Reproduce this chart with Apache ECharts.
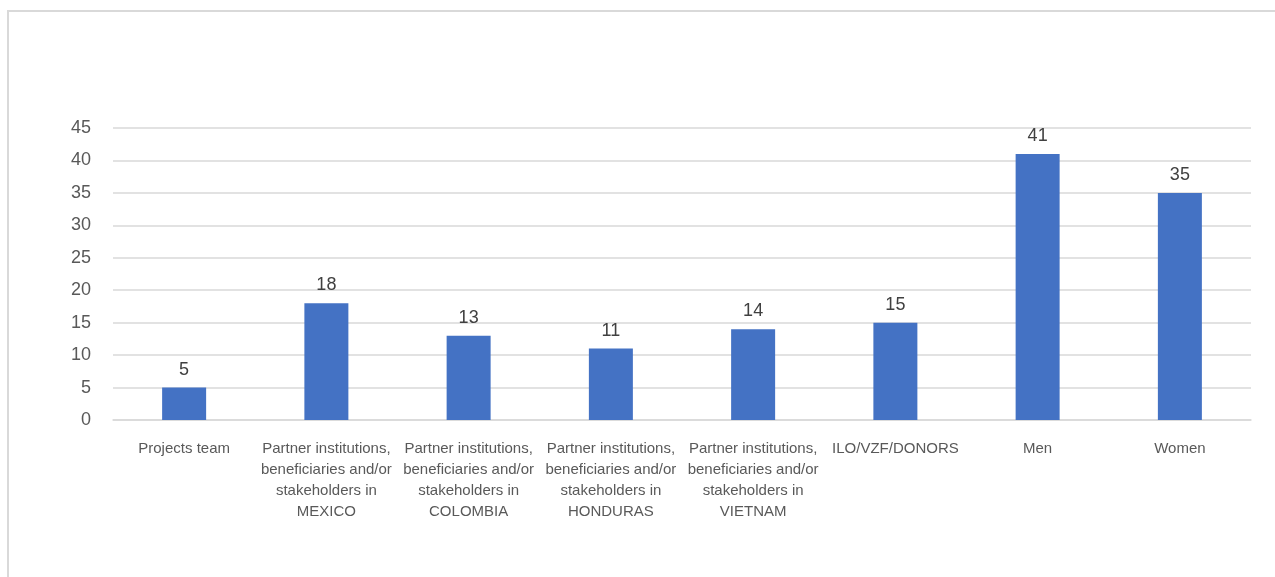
<!DOCTYPE html>
<html><head><meta charset="utf-8">
<script src="https://cdn.jsdelivr.net/npm/echarts@6/dist/echarts.min.js"></script>
<style>html,body{margin:0;padding:0;background:#fff}#c{width:1275px;height:577px}</style>
</head><body><div id="c"></div>
<script>
const categories = [
  "Projects team",
  "Partner institutions,\nbeneficiaries and/or\nstakeholders in\nMEXICO",
  "Partner institutions,\nbeneficiaries and/or\nstakeholders in\nCOLOMBIA",
  "Partner institutions,\nbeneficiaries and/or\nstakeholders in\nHONDURAS",
  "Partner institutions,\nbeneficiaries and/or\nstakeholders in\nVIETNAM",
  "ILO/VZF/DONORS",
  "Men",
  "Women"
];
const values = [5, 18, 13, 11, 14, 15, 41, 35];
const yMin = 0, yMax = 45, yStep = 5;

const chart = echarts.init(document.getElementById('c'));
chart.setOption({
  animation: false,
  graphic: [{
    type: 'rect', silent: true,
    shape: { x: 8, y: 11, width: 1400, height: 700 },
    style: { fill: 'none', stroke: '#d9d9d9', lineWidth: 2 }
  }],
  grid: { left: 113, right: 24, top: 128, bottom: 157 },
  xAxis: {
    type: 'category', data: categories,
    axisLine: { show: true, lineStyle: { color: '#d9d9d9', width: 1.5 } },
    axisTick: { show: false },
    axisLabel: {
      interval: 0, color: '#595959', fontSize: 15, lineHeight: 21, margin: 18,
      fontFamily: '"Liberation Sans Narrow", "Liberation Sans", sans-serif'
    }
  },
  yAxis: {
    type: 'value', min: yMin, max: yMax, interval: yStep,
    axisLine: { show: false }, axisTick: { show: false },
    splitLine: { lineStyle: { color: '#d9d9d9', width: 1.5 } },
    axisLabel: { color: '#595959', fontSize: 18, margin: 22, fontFamily: '"Liberation Sans", sans-serif' }
  },
  series: [{
    type: 'bar', data: values, barWidth: 44,
    itemStyle: { color: '#4472C4' },
    label: { show: true, position: 'top', distance: 9, color: '#404040', fontSize: 18,
      fontFamily: '"Liberation Sans", sans-serif' }
  }]
});
</script></body></html>
